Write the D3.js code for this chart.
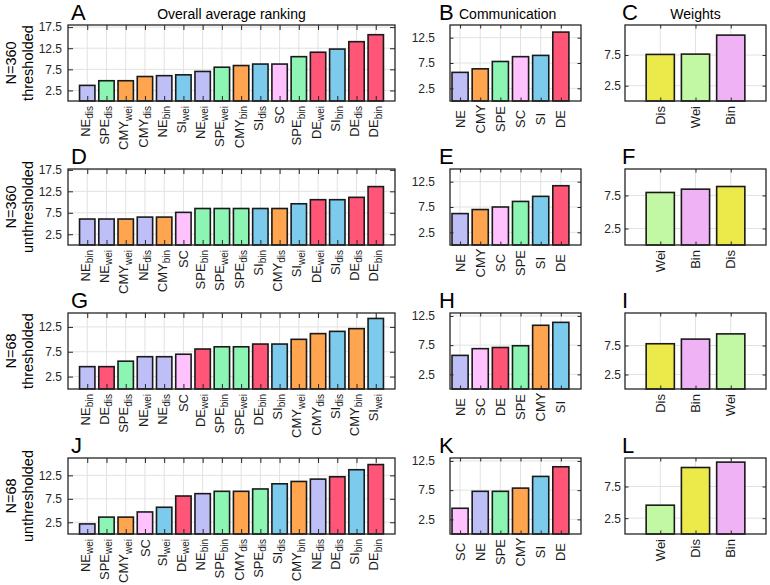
<!DOCTYPE html>
<html><head><meta charset="utf-8">
<script src="https://cdn.jsdelivr.net/npm/d3@7"></script>
<style>body{margin:0;background:#fff} text{font-family:"Liberation Sans",Arial,Helvetica,sans-serif}</style>
</head><body><svg id="c" width="770" height="585"></svg>
<script>
// ---------- data ----------
const catsA = ["NE_dis","SPE_dis","CMY_wei","CMY_dis","NE_bin","SI_wei","NE_wei","SPE_wei","CMY_bin","SI_dis","SC","SPE_bin","DE_wei","SI_bin","DE_dis","DE_bin"];
const valsA = [3.7,4.8,4.8,5.8,6.0,6.2,7.0,8.0,8.4,8.75,8.75,10.5,11.55,12.3,14.05,15.7];
const catsB = ["NE","CMY","SPE","SC","SI","DE"];
const valsB = [5.65,6.35,7.8,8.75,9.0,13.6];
const catsC = ["Dis","Wei","Bin"];
const valsC = [7.6,7.65,10.75];
const catsD = ["NE_bin","NE_wei","CMY_wei","NE_dis","CMY_bin","SC","SPE_bin","SPE_wei","SPE_dis","SI_bin","CMY_dis","SI_wei","DE_wei","SI_dis","DE_dis","DE_bin"];
const valsD = [6.05,6.05,6.05,6.5,6.5,7.6,8.5,8.5,8.5,8.5,8.5,9.6,10.55,10.55,11.1,13.6];
const catsE = ["NE","CMY","SC","SPE","SI","DE"];
const valsE = [6.2,7.0,7.5,8.6,9.6,11.7];
const catsF = ["Wei","Bin","Dis"];
const valsF = [7.95,8.45,8.85];
const catsG = ["NE_bin","DE_dis","SPE_dis","NE_wei","NE_dis","SC","DE_wei","SPE_bin","SPE_wei","DE_bin","SI_bin","CMY_wei","CMY_dis","SI_dis","CMY_bin","SI_wei"];
const valsG = [4.5,4.5,5.6,6.5,6.5,7.0,8.05,8.5,8.5,9.05,9.05,10.0,11.15,11.6,12.15,14.2];
const catsH = ["NE","SC","DE","SPE","CMY","SI"];
const valsH = [5.75,6.9,7.1,7.4,10.9,11.4];
const catsI = ["Dis","Bin","Wei"];
const valsI = [7.8,8.6,9.5];
const catsJ = ["NE_wei","SPE_wei","CMY_wei","SC","SI_wei","DE_wei","NE_bin","SPE_bin","CMY_dis","SPE_dis","SI_dis","CMY_bin","NE_dis","DE_dis","SI_bin","DE_bin"];
const valsJ = [2.15,3.6,3.6,4.7,5.7,8.1,8.6,9.1,9.1,9.6,10.7,11.2,11.7,12.2,13.7,14.8];
const catsK = ["SC","NE","SPE","CMY","SI","DE"];
const valsK = [4.4,7.3,7.3,7.85,9.85,11.5];
const catsL = ["Wei","Dis","Bin"];
const valsL = [4.55,10.5,11.35];

const ticks4 = [2.5,7.5,12.5,17.5];
const ticks3 = [2.5,7.5,12.5];
const ticks2 = [2.5,7.5];
const rowLabels = [["N=360","thresholded"],["N=360","unthresholded"],["N=68","thresholded"],["N=68","unthresholded"]];
const colTitles = ["Overall average ranking","Communication","Weights"];

const colors = {NE:"#bfbff8", SPE:"#8cf5b3", CMY:"#ffa54f", SI:"#7dcbec", SC:"#ffc2ff", DE:"#ff5577",
                Dis:"#ebea4a", Wei:"#c2f7a3", Bin:"#efb3f5"};

// ---------- layout ----------
const svg = d3.select("#c");
const colX = [[68,395],[450,581],[625,766]];
const rowTop = [25,169,313,458];
const H = 76;
const tickLen = [5,3.5,3.5];
const yPad = [6,15,4];

const panels = [
 {L:"A",r:0,c:0,cats:catsA,vals:valsA,ymax:18,yt:ticks4},
 {L:"B",r:0,c:1,cats:catsB,vals:valsB,ymax:15,yt:ticks3},
 {L:"C",r:0,c:2,cats:catsC,vals:valsC,ymax:12.4,yt:ticks2},
 {L:"D",r:1,c:0,cats:catsD,vals:valsD,ymax:17.7,yt:ticks4},
 {L:"E",r:1,c:1,cats:catsE,vals:valsE,ymax:15,yt:ticks3},
 {L:"F",r:1,c:2,cats:catsF,vals:valsF,ymax:11.5,yt:ticks2},
 {L:"G",r:2,c:0,cats:catsG,vals:valsG,ymax:15.3,yt:ticks3},
 {L:"H",r:2,c:1,cats:catsH,vals:valsH,ymax:13,yt:ticks3},
 {L:"I",r:2,c:2,cats:catsI,vals:valsI,ymax:13.1,yt:ticks2},
 {L:"J",r:3,c:0,cats:catsJ,vals:valsJ,ymax:16.2,yt:ticks3},
 {L:"K",r:3,c:1,cats:catsK,vals:valsK,ymax:13,yt:ticks3},
 {L:"L",r:3,c:2,cats:catsL,vals:valsL,ymax:12,yt:ticks2}
];

function styleAxis(sel){
  sel.select(".domain").remove();
  sel.selectAll(".tick line").attr("stroke","#262626").attr("stroke-width",1);
  sel.selectAll("text").attr("font-family",'"Liberation Sans",Arial,sans-serif').attr("font-size",12).attr("fill","#262626");
}

function draw(p){
  const [x0,x1] = colX[p.c];
  const y0 = rowTop[p.r], y1 = y0 + H;
  const n = p.cats.length;
  const idx = d3.range(1,n+1);
  const xd = p.c === 1 ? [0.5, n+1] : [0, n+1];
  const x = d3.scaleLinear().domain(xd).range([x0,x1]);
  const y = d3.scaleLinear().domain([0,p.ymax]).range([y1,y0]);
  const g = svg.append("g");
  const tl = tickLen[p.c];

  // grid
  g.selectAll(".gx").data(idx).join("line").attr("class","gx")
    .attr("x1",d=>x(d)).attr("x2",d=>x(d)).attr("y1",y0).attr("y2",y1)
    .attr("stroke","#e2e2e2").attr("stroke-width",1);
  g.selectAll(".gy").data(p.yt).join("line").attr("class","gy")
    .attr("x1",x0).attr("x2",x1).attr("y1",d=>y(d)).attr("y2",d=>y(d))
    .attr("stroke","#e2e2e2").attr("stroke-width",1);

  // bars
  const bw = (x(1)-x(0))*0.8;
  g.selectAll(".bar").data(p.vals).join("rect").attr("class","bar")
    .attr("x",(d,i)=>x(i+1)-bw/2).attr("width",bw)
    .attr("y",d=>y(d)).attr("height",d=>y1-y(d))
    .attr("fill",(d,i)=>colors[p.cats[i].split("_")[0]])
    .attr("stroke","#1a1a1a").attr("stroke-width",1.6);

  // axes (inward ticks on all four sides)
  g.append("g").attr("transform",`translate(${x0},0)`)
    .call(d3.axisLeft(y).tickValues(p.yt).tickSize(-tl).tickPadding(yPad[p.c]).tickFormat(d3.format(".1f")))
    .call(styleAxis);
  g.append("g").attr("transform",`translate(${x1},0)`)
    .call(d3.axisRight(y).tickValues(p.yt).tickSize(-tl).tickFormat(""))
    .call(styleAxis);
  g.append("g").attr("transform",`translate(0,${y0})`)
    .call(d3.axisTop(x).tickValues(idx).tickSize(-tl).tickFormat(""))
    .call(styleAxis);
  g.append("g").attr("transform",`translate(0,${y1})`)
    .call(d3.axisBottom(x).tickValues(idx).tickSize(-tl).tickFormat(""))
    .call(styleAxis);

  // box
  g.append("rect").attr("x",x0).attr("y",y0).attr("width",x1-x0).attr("height",H)
    .attr("fill","none").attr("stroke","#262626").attr("stroke-width",1.3);

  // x labels (rotated, with subscripts)
  const anchor = p.c === 1 ? "middle" : "end";
  const off = p.c === 1 ? 18 : 5;
  const lab = g.selectAll(".xl").data(p.cats).join("text").attr("class","xl")
    .attr("transform",(d,i)=>`translate(${x(i+1)},${y1+off}) rotate(-90)`)
    .attr("text-anchor",anchor).attr("font-size",13).attr("fill","#1a1a1a");
  lab.each(function(d){
    const parts = d.split("_");
    const t = d3.select(this).attr("y", parts[1] ? 2.6 : 4.6);
    t.append("tspan").text(parts[0]);
    if (parts[1]) t.append("tspan").attr("dy",3.2).attr("font-size",10).text(parts[1]);
  });

  // panel letter
  const lx = [71,439,622][p.c];
  g.append("text").attr("x",lx).attr("y",y0-5).attr("font-size",22).attr("fill","#000").text(p.L);
}
panels.forEach(draw);

// column titles (top row)
svg.append("text").attr("x",(colX[0][0]+colX[0][1])/2).attr("y",19).attr("text-anchor","middle")
  .attr("font-size",14).text(colTitles[0]);
svg.append("text").attr("x",459).attr("y",19).attr("font-size",14).text(colTitles[1]);
svg.append("text").attr("x",(colX[2][0]+colX[2][1])/2).attr("y",19).attr("text-anchor","middle")
  .attr("font-size",14).text(colTitles[2]);

// row labels
rowLabels.forEach((rl,i)=>{
  const cy = rowTop[i] + H/2;
  svg.append("text").attr("transform",`translate(16,${cy}) rotate(-90)`).attr("text-anchor","middle")
    .attr("font-size",14.5).text(rl[0]);
  svg.append("text").attr("transform",`translate(33,${cy}) rotate(-90)`).attr("text-anchor","middle")
    .attr("font-size",14.5).text(rl[1]);
});
</script></body></html>
